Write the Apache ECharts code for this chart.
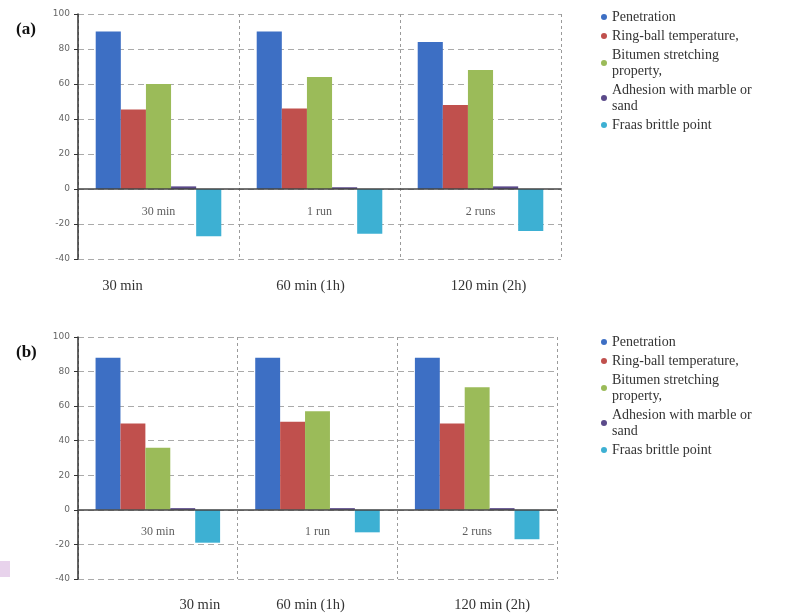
<!DOCTYPE html>
<html><head><meta charset="utf-8">
<script src="https://cdn.jsdelivr.net/npm/echarts@6/dist/echarts.min.js"></script>
<style>html,body{margin:0;padding:0;background:#fff}#c{width:795px;height:614px}</style>
</head><body><div id="c"></div>
<script>
const categories = ['30 min', '60 min (1h)', '120 min (2h)'];
const innerLabels = ['30 min', '1 run', '2 runs'];
const innerLabelValue = [-13, -13, -13];
const seriesNames = ['Penetration', 'Ring-ball temperature,', 'Bitumen stretching property,', 'Adhesion with marble or sand', 'Fraas brittle point'];
const yTicks = [-40, -20, 0, 20, 40, 60, 80, 100];

// panel (a)
const aPenetration = [90, 90, 84];
const aRingBall = [45.5, 46, 48];
const aStretching = [60, 64, 68];
const aAdhesion = [1.5, 1, 1.5];
const aFraas = [-27, -25.5, -24];

// panel (b)
const bPenetration = [88, 88, 88];
const bRingBall = [50, 51, 50];
const bStretching = [36, 57, 71];
const bAdhesion = [1, 1, 1];
const bFraas = [-19, -13, -17];

const colors = ['#3D6FC4', '#C0504D', '#9BBB59', '#5B4A8A', '#3DB0D3'];
const labelShift = [[-72, -18, 16], [84, -14, 30]];

const panels = [
  [aPenetration, aRingBall, aStretching, aAdhesion, aFraas],
  [bPenetration, bRingBall, bStretching, bAdhesion, bFraas]
];
const legendWrap = {
  'Bitumen stretching property,': 'Bitumen stretching\nproperty,',
  'Adhesion with marble or sand': 'Adhesion with marble or\nsand'
};
const serif = 'Liberation Serif';

const grids = [
  {left: 78, right: 234, top: 14, bottom: 355},
  {left: 78, right: 238, top: 337, bottom: 35}
];

const xAxes = [], yAxes = [], series = [], legends = [];
panels.forEach((vals, p) => {
  const rich = {};
  [0, 1, 2].forEach(i => {
    const d = labelShift[p][i];
    const st = {fontFamily: serif, fontSize: 14.5, color: '#333'};
    rich['t' + i] = Object.assign({padding: d >= 0 ? [0, 0, 0, d] : [0, -d, 0, 0]}, st);
  });
  xAxes.push({
    type: 'category', gridIndex: p, data: categories,
    axisLine: {onZero: false, show: false},
    axisTick: {show: false},
    splitLine: {show: true, lineStyle: {color: '#9a9a9a', type: [3, 3], width: 1}},
    axisLabel: {
      margin: p === 0 ? 20 : 19,
      fontFamily: serif, fontSize: 14.5, color: '#333',
      formatter: (v, i) => '{t' + i + '|' + v + '}',
      rich: rich
    }
  });
  yAxes.push({
    type: 'value', gridIndex: p, min: -40, max: 100, interval: 20,
    axisLine: {show: true, lineStyle: {color: '#333', width: 1.5}},
    axisTick: {show: true, length: 4, lineStyle: {color: '#333'}},
    axisLabel: {fontSize: 9, color: '#666', fontFamily: 'DejaVu Sans', margin: 8,
      formatter: v => yTicks.includes(v) ? String(v) : ''},
    splitLine: {show: true, lineStyle: {color: '#aaa', type: [6, 4], width: 1}}
  });
  vals.forEach((arr, s) => {
    const ser = {
      name: seriesNames[s], type: 'bar', xAxisIndex: p, yAxisIndex: p,
      data: arr, barGap: '0%', barCategoryGap: '22%',
      itemStyle: {color: colors[s]}
    };
    if (s === 0) {
      ser.markLine = {
        silent: true, symbol: 'none', label: {show: false},
        lineStyle: {color: '#444', type: 'solid', width: 1.5},
        data: [{yAxis: 0}]
      };
    }
    series.push(ser);
  });
  series.push({
    type: 'scatter', xAxisIndex: p, yAxisIndex: p, symbolSize: 0, silent: true,
    data: categories.map((c, i) => [i, innerLabelValue[i]]),
    label: {show: true, position: 'inside', fontFamily: serif, fontSize: 12, color: '#333',
      formatter: pr => innerLabels[pr.dataIndex]}
  });
  legends.push({
    data: seriesNames, orient: 'vertical', left: 596, top: p === 0 ? 4 : 329,
    icon: 'circle', itemWidth: 6, itemHeight: 6, itemGap: 3,
    formatter: n => legendWrap[n] || n,
    textStyle: {fontFamily: serif, fontSize: 14, color: '#333', lineHeight: 16}
  });
});

const chart = echarts.init(document.getElementById('c'), null, {renderer: 'canvas'});
chart.setOption({
  animation: false,
  color: colors,
  title: [
    {text: '(a)', left: 11, top: 16, textStyle: {fontFamily: serif, fontWeight: 'bold', fontSize: 17, color: '#111'}},
    {text: '(b)', left: 11, top: 339, textStyle: {fontFamily: serif, fontWeight: 'bold', fontSize: 17, color: '#111'}}
  ],
  grid: grids,
  xAxis: xAxes,
  yAxis: yAxes,
  legend: legends,
  series: series,
  graphic: [{type: 'rect', shape: {x: 0, y: 561, width: 10, height: 16}, style: {fill: '#e8d3ec'}}]
});
</script></body></html>
